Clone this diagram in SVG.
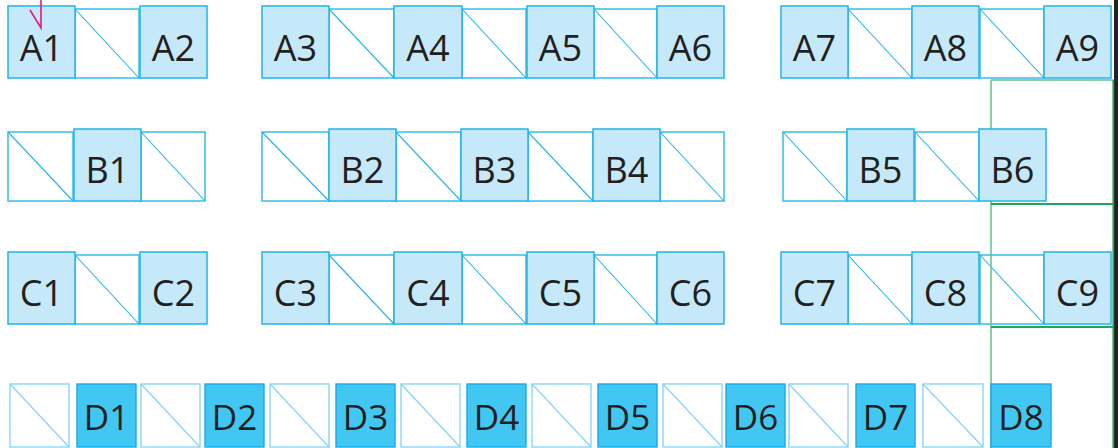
<svg xmlns="http://www.w3.org/2000/svg" width="1118" height="448" viewBox="0 0 1118 448">
<style>
.bk{fill:#fff;stroke:#35bdee;stroke-width:1.5}
.dg{stroke:#22b3ea;stroke-width:1.1;fill:none}
.lb{fill:#c6e9f9;stroke:#22b3ea;stroke-width:1.5}
.bkd{fill:#fff;stroke:#8ad6f5;stroke-width:1.4}
.dgd{stroke:#80d3f4;stroke-width:1.1;fill:none}
.lbd{fill:#42c7f3;stroke:#14acE6;stroke-width:1.4}
.t{font-family:"Open Sans","Noto Sans",sans-serif;font-size:36px;fill:#231f20;text-anchor:middle}
.td{font-family:"Open Sans","Noto Sans",sans-serif;font-size:35px;fill:#231f20;text-anchor:middle}
.gl{stroke:#5cc38c;stroke-width:1.5;fill:none}
.gd{stroke:#1ea75a;stroke-width:1.8;fill:none}
</style>
<rect width="1118" height="448" fill="#fff"/>
<rect x="1114" y="0" width="4" height="448" fill="#222"/>
<g id="blanks">
<g id="bA1"><rect class="bk" x="75" y="9" width="64" height="69"/><line class="dg" x1="75" y1="9" x2="139" y2="78"/></g>
<g id="bA2"><rect class="bk" x="329" y="9" width="65" height="69"/><line class="dg" x1="329" y1="9" x2="394" y2="78"/></g>
<g id="bA3"><rect class="bk" x="462" y="9" width="64" height="69"/><line class="dg" x1="462" y1="9" x2="526" y2="78"/></g>
<g id="bA4"><rect class="bk" x="594" y="9" width="63" height="69"/><line class="dg" x1="594" y1="9" x2="657" y2="78"/></g>
<g id="bA5"><rect class="bk" x="848" y="9" width="64" height="69"/><line class="dg" x1="848" y1="9" x2="912" y2="78"/></g>
<g id="bA6"><rect class="bk" x="980" y="9" width="64" height="69"/><line class="dg" x1="980" y1="9" x2="1044" y2="78"/></g>
<g id="bB1"><rect class="bk" x="8" y="132" width="65" height="69"/><line class="dg" x1="8" y1="132" x2="73" y2="201"/></g>
<g id="bB2"><rect class="bk" x="141" y="132" width="64" height="69"/><line class="dg" x1="141" y1="132" x2="205" y2="201"/></g>
<g id="bB3"><rect class="bk" x="262" y="132" width="67" height="69"/><line class="dg" x1="262" y1="132" x2="329" y2="201"/></g>
<g id="bB4"><rect class="bk" x="396" y="132" width="65" height="69"/><line class="dg" x1="396" y1="132" x2="461" y2="201"/></g>
<g id="bB5"><rect class="bk" x="528" y="132" width="65" height="69"/><line class="dg" x1="528" y1="132" x2="593" y2="201"/></g>
<g id="bB6"><rect class="bk" x="660" y="132" width="64" height="69"/><line class="dg" x1="660" y1="132" x2="724" y2="201"/></g>
<g id="bB7"><rect class="bk" x="783" y="132" width="64" height="69"/><line class="dg" x1="783" y1="132" x2="847" y2="201"/></g>
<g id="bB8"><rect class="bk" x="915" y="132" width="64" height="69"/><line class="dg" x1="915" y1="132" x2="979" y2="201"/></g>
<g id="bC1"><rect class="bk" x="75" y="255" width="64" height="69"/><line class="dg" x1="75" y1="255" x2="139" y2="324"/></g>
<g id="bC2"><rect class="bk" x="329" y="255" width="65" height="69"/><line class="dg" x1="329" y1="255" x2="394" y2="324"/></g>
<g id="bC3"><rect class="bk" x="462" y="255" width="64" height="69"/><line class="dg" x1="462" y1="255" x2="526" y2="324"/></g>
<g id="bC4"><rect class="bk" x="594" y="255" width="63" height="69"/><line class="dg" x1="594" y1="255" x2="657" y2="324"/></g>
<g id="bC5"><rect class="bk" x="848" y="255" width="64" height="69"/><line class="dg" x1="848" y1="255" x2="912" y2="324"/></g>
<g id="bC6"><rect class="bk" x="980" y="255" width="64" height="69"/><line class="dg" x1="980" y1="255" x2="1044" y2="324"/></g>
<g id="bD1"><rect class="bkd" x="10" y="384" width="59" height="63"/><line class="dgd" x1="10" y1="384" x2="69" y2="447"/></g>
<g id="bD2"><rect class="bkd" x="141" y="384" width="59" height="63"/><line class="dgd" x1="141" y1="384" x2="200" y2="447"/></g>
<g id="bD3"><rect class="bkd" x="270" y="384" width="59" height="63"/><line class="dgd" x1="270" y1="384" x2="329" y2="447"/></g>
<g id="bD4"><rect class="bkd" x="401" y="384" width="59" height="63"/><line class="dgd" x1="401" y1="384" x2="460" y2="447"/></g>
<g id="bD5"><rect class="bkd" x="532" y="384" width="59" height="63"/><line class="dgd" x1="532" y1="384" x2="591" y2="447"/></g>
<g id="bD6"><rect class="bkd" x="663" y="384" width="59" height="63"/><line class="dgd" x1="663" y1="384" x2="722" y2="447"/></g>
<g id="bD7"><rect class="bkd" x="789" y="384" width="59" height="63"/><line class="dgd" x1="789" y1="384" x2="848" y2="447"/></g>
<g id="bD8"><rect class="bkd" x="923" y="384" width="60" height="63"/><line class="dgd" x1="923" y1="384" x2="983" y2="447"/></g>
</g>
<g id="connectors">
<line class="gl" x1="991" y1="80" x2="991" y2="448"/>
<line class="gl" x1="991" y1="80" x2="1113.5" y2="80"/>
<line class="gd" x1="991" y1="204" x2="1113.5" y2="204"/>
<line class="gd" x1="991" y1="327" x2="1113.5" y2="327"/>
<line class="gd" x1="1113.3" y1="80" x2="1113.3" y2="448"/>
</g>
<g id="A1"><rect class="lb" x="8" y="6" width="67" height="72"/><text class="t" x="41.5" y="61">A1</text></g>
<g id="A2"><rect class="lb" x="140" y="6" width="67" height="72"/><text class="t" x="173.5" y="61">A2</text></g>
<g id="A3"><rect class="lb" x="262" y="6" width="67" height="72"/><text class="t" x="295.5" y="61">A3</text></g>
<g id="A4"><rect class="lb" x="394" y="6" width="68" height="72"/><text class="t" x="428" y="61">A4</text></g>
<g id="A5"><rect class="lb" x="527" y="6" width="67" height="72"/><text class="t" x="560.5" y="61">A5</text></g>
<g id="A6"><rect class="lb" x="657" y="6" width="67" height="72"/><text class="t" x="690.5" y="61">A6</text></g>
<g id="A7"><rect class="lb" x="781" y="6" width="67" height="72"/><text class="t" x="814.5" y="61">A7</text></g>
<g id="A8"><rect class="lb" x="912" y="6" width="67" height="72"/><text class="t" x="945.5" y="61">A8</text></g>
<g id="A9"><rect class="lb" x="1044" y="6" width="67" height="72"/><text class="t" x="1077.5" y="61">A9</text></g>
<g id="B1"><rect class="lb" x="74" y="129" width="67" height="72"/><text class="t" x="107.5" y="183">B1</text></g>
<g id="B2"><rect class="lb" x="329" y="129" width="67" height="72"/><text class="t" x="362.5" y="183">B2</text></g>
<g id="B3"><rect class="lb" x="461" y="129" width="67" height="72"/><text class="t" x="494.5" y="183">B3</text></g>
<g id="B4"><rect class="lb" x="593" y="129" width="67" height="72"/><text class="t" x="626.5" y="183">B4</text></g>
<g id="B5"><rect class="lb" x="847" y="129" width="67" height="72"/><text class="t" x="880.5" y="183">B5</text></g>
<g id="B6"><rect class="lb" x="979" y="129" width="67" height="72"/><text class="t" x="1012.5" y="183">B6</text></g>
<g id="C1"><rect class="lb" x="8" y="252" width="67" height="72"/><text class="t" x="41.5" y="306">C1</text></g>
<g id="C2"><rect class="lb" x="140" y="252" width="67" height="72"/><text class="t" x="173.5" y="306">C2</text></g>
<g id="C3"><rect class="lb" x="262" y="252" width="67" height="72"/><text class="t" x="295.5" y="306">C3</text></g>
<g id="C4"><rect class="lb" x="394" y="252" width="68" height="72"/><text class="t" x="428" y="306">C4</text></g>
<g id="C5"><rect class="lb" x="527" y="252" width="67" height="72"/><text class="t" x="560.5" y="306">C5</text></g>
<g id="C6"><rect class="lb" x="657" y="252" width="67" height="72"/><text class="t" x="690.5" y="306">C6</text></g>
<g id="C7"><rect class="lb" x="781" y="252" width="67" height="72"/><text class="t" x="814.5" y="306">C7</text></g>
<g id="C8"><rect class="lb" x="912" y="252" width="67" height="72"/><text class="t" x="945.5" y="306">C8</text></g>
<g id="C9"><rect class="lb" x="1044" y="252" width="67" height="72"/><text class="t" x="1077.5" y="306">C9</text></g>
<g id="D1"><rect class="lbd" x="77" y="384" width="59" height="63"/><text class="td" x="106.5" y="430">D1</text></g>
<g id="D2"><rect class="lbd" x="205" y="384" width="59" height="63"/><text class="td" x="234.5" y="430">D2</text></g>
<g id="D3"><rect class="lbd" x="336" y="384" width="59" height="63"/><text class="td" x="365.5" y="430">D3</text></g>
<g id="D4"><rect class="lbd" x="467" y="384" width="59" height="63"/><text class="td" x="496.5" y="430">D4</text></g>
<g id="D5"><rect class="lbd" x="598" y="384" width="59" height="63"/><text class="td" x="627.5" y="430">D5</text></g>
<g id="D6"><rect class="lbd" x="726" y="384" width="59" height="63"/><text class="td" x="755.5" y="430">D6</text></g>
<g id="D7"><rect class="lbd" x="856" y="384" width="59" height="63"/><text class="td" x="885.5" y="430">D7</text></g>
<g id="D8"><rect class="lbd" x="991" y="384" width="60" height="63"/><text class="td" x="1021" y="430">D8</text></g>
<g id="marker"><path d="M41,0 L41,28 L30,10" fill="none" stroke="#e5197e" stroke-width="1.6"/></g>
</svg>
